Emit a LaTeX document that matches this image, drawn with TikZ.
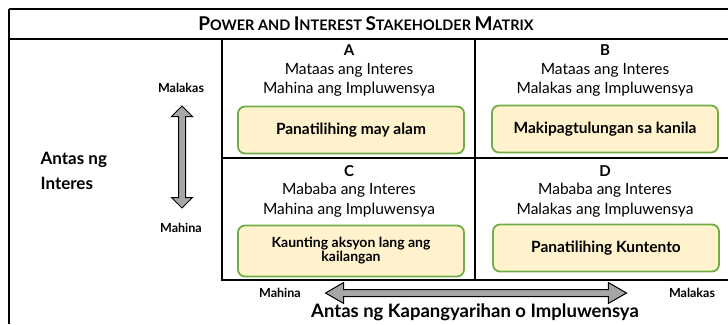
\documentclass[tikz,border=0pt]{standalone}
\usepackage{fontspec}
\setmainfont{Lato}
\usetikzlibrary{positioning, shapes.arrows}
\definecolor{boxgreen}{RGB}{112,173,71}
\definecolor{boxfill}{RGB}{255,242,204}
\definecolor{arrowgray}{RGB}{166,166,166}
\newcommand{\fsc}[2]{{\fontsize{19}{19}\selectfont #1}#2}

\begin{document}
\begin{tikzpicture}[x=1pt, y=-1pt, line width=2.6pt,
    action/.style={draw=boxgreen, fill=boxfill, line width=1.8pt, rounded corners=7pt,
      minimum width=226pt, minimum height=47pt, align=center,
      font=\bfseries\fontsize{15.5}{15.5}\selectfont},
    celltext/.style={align=center, font=\fontsize{15.5}{19.5}\selectfont},
    letter/.style={font=\bfseries\fontsize{15}{15}\selectfont},
    tick/.style={font=\bfseries\fontsize{12.5}{12.5}\selectfont},
    bigarrow/.style={double arrow, draw=black, fill=arrowgray, line width=1pt,
      inner sep=3pt, double arrow head extend=7pt}]
  \useasboundingbox (0,0) rectangle (728,324);

  % frame and grid
  \draw (9,9) -- (728,9);
  \draw (9,9) -- (9,324);
  \draw (9,39) -- (728,39);
  \draw (222,39) -- (222,280) -- (728,280);
  \draw (475,39) -- (475,280);
  \draw (222,158) -- (728,158);

  \node[font=\bfseries\fontsize{14.5}{14.5}\selectfont] (title) at (366,24)
    {\fsc{P}{OWER AND} \fsc{I}{NTEREST} \fsc{S}{TAKEHOLDER} \fsc{M}{ATRIX}};

  % quadrants
  \node[letter] (la) at (349,50) {A};
  \node[celltext] (ta) at (349,80) {Mataas ang Interes\\Mahina ang Impluwensya};
  \node[action] (ba) at (351,130) {Panatilihing may alam};

  \node[letter] (lb) at (605,50) {B};
  \node[celltext] (tb) at (605,80) {Mataas ang Interes\\Malakas ang Impluwensya};
  \node[action] (bb) at (605,129) {Makipagtulungan sa kanila};

  \node[letter] (lc) at (349,171) {C};
  \node[celltext] (tc) at (349,200) {Mababa ang Interes\\Mahina ang Impluwensya};
  \node[action, minimum height=51pt, font=\bfseries\fontsize{14}{11}\selectfont] (bc) at (351,251)
    {Kaunting aksyon lang ang\\kailangan};

  \node[letter] (ld) at (605,171) {D};
  \node[celltext] (td) at (605,200) {Mababa ang Interes\\Malakas ang Impluwensya};
  \node[action] (bd) at (606,248) {Panatilihing Kuntento};

  % interest axis
  \node[align=left, anchor=west, font=\bfseries\fontsize{17}{25}\selectfont] (yaxis) at (36,171)
    {Antas ng\\Interes};
  \node[bigarrow, rotate=90, minimum height=102pt] (varrow) at (182,157) {};
  \node[tick] (vtop) at (181,88) {Malakas};
  \node[tick] (vbot) at (181,228) {Mahina};

  % power axis
  \node[bigarrow, minimum height=301pt, double arrow tip angle=60] (harrow) at (476,293) {};
  \node[tick] (hleft) at (280,293) {Mahina};
  \node[tick] (hright) at (692,293) {Malakas};
  \node[font=\bfseries\fontsize{18.5}{18.5}\selectfont] (xaxis) at (475,312.5)
    {Antas ng Kapangyarihan o Impluwensya};
\end{tikzpicture}
\end{document}
